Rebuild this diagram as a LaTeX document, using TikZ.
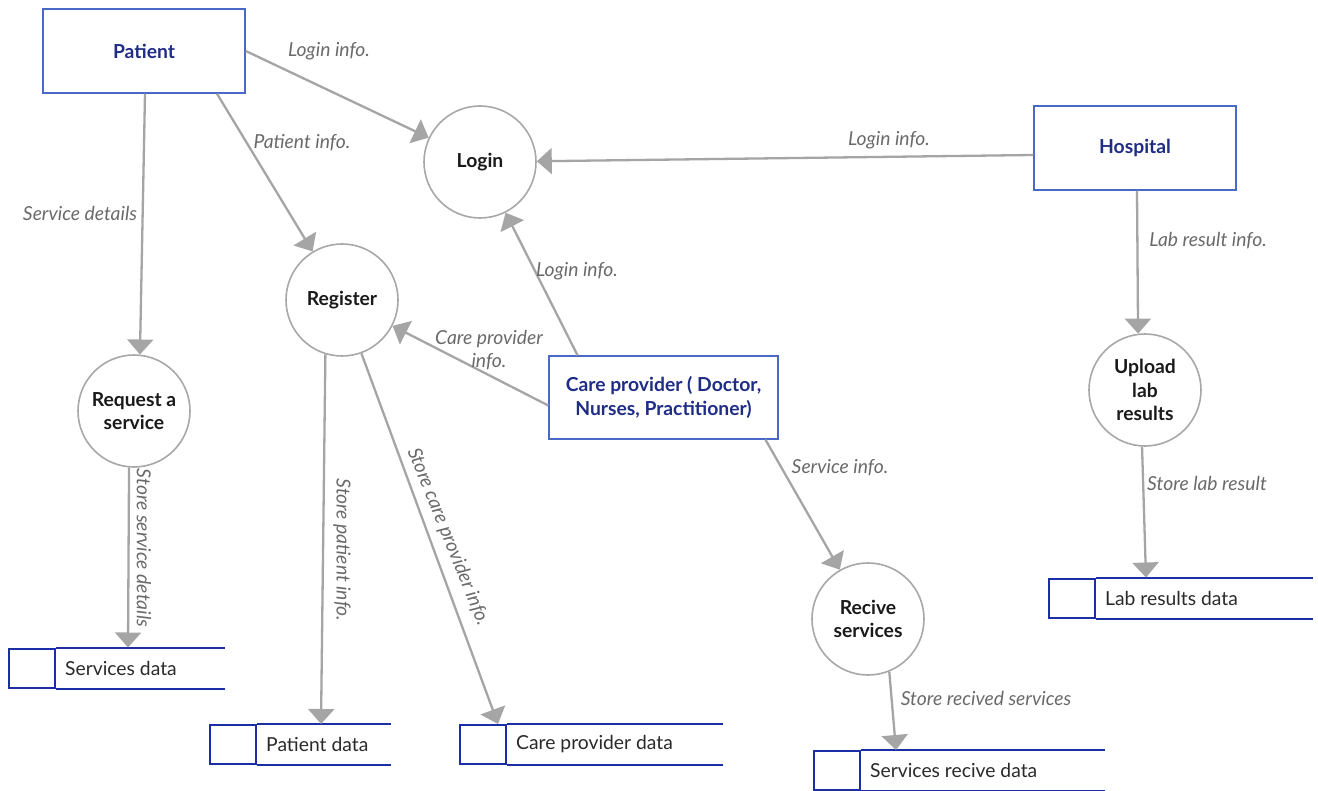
\documentclass[tikz,border=0pt]{standalone}
\usepackage{fontspec}
\setmainfont{Lato}
\usetikzlibrary{arrows.meta}

\definecolor{entitytext}{HTML}{1F2D86}
\definecolor{entityborder}{HTML}{4A68C8}
\definecolor{storeblue}{HTML}{1B2EA6}
\definecolor{flowgrey}{HTML}{A5A5A5}
\definecolor{circlegrey}{HTML}{A8A8A8}
\definecolor{labelgrey}{HTML}{6A6A6A}
\definecolor{processtext}{HTML}{1A1A1A}
\definecolor{storetextcol}{HTML}{2A2A2A}

\tikzset{
  entity/.style={draw=entityborder, line width=1.5pt, fill=white,
    minimum width=202pt, minimum height=84pt, inner sep=0pt,
    text=entitytext, align=center,
    font=\fontsize{19.3}{23.5}\selectfont\bfseries},
  process/.style={circle, draw=circlegrey, line width=1.6pt, fill=white,
    minimum size=112pt, inner sep=0pt, text=processtext, align=center,
    font=\fontsize{19.3}{23.5}\selectfont\bfseries},
  cell/.style={draw=storeblue, line width=2pt, minimum width=46pt,
    minimum height=39pt, inner sep=0pt},
  storeline/.style={draw=storeblue, line width=2pt},
  storetext/.style={anchor=west, inner sep=0pt, text=storetextcol,
    font=\fontsize{19.3}{23}\selectfont},
  flow/.style={draw=flowgrey, line width=2.3pt,
    -{Triangle[length=15pt,width=26pt]}},
  lbl/.style={inner sep=0pt, text=labelgrey, align=center,
    font=\fontsize{19.3}{23.5}\selectfont\itshape},
}

\begin{document}
\begin{tikzpicture}[x=1pt,y=-1pt]
  \useasboundingbox[fill=white] (0,0) rectangle (1318,791);

  % external entities
  \node[entity] (patient)  at (144,51)  {Patient};
  \node[entity] (hospital) at (1135,148) {Hospital};
  \node[entity, minimum width=229pt, minimum height=83pt] (care) at (663.5,397.5)
    {Care provider ( Doctor,\\Nurses, Practitioner)};

  % processes
  \node[process] (login)    at (480,162)  {Login};
  \node[process] (register) at (342,300)  {Register};
  \node[process] (request)  at (134,411)  {Request a\\service};
  \node[process] (upload)   at (1145,390) {Upload\\lab\\results};
  \node[process] (recive)   at (868,619)  {Recive\\services};

  % data stores: closed left cell, open right end
  \node[cell] (sdata) at (32,668) {};
  \draw[storeline] (sdata.north east) -- ++(169,0);
  \draw[storeline] (sdata.south east) -- ++(169,0);
  \node[storetext] (sdatatxt) at ([xshift=9pt]sdata.east) {Services data};

  \node[cell] (pdata) at (233,744.5) {};
  \draw[storeline] (pdata.north east) -- ++(134,0);
  \draw[storeline] (pdata.south east) -- ++(134,0);
  \node[storetext] (pdatatxt) at ([xshift=9pt]pdata.east) {Patient data};

  \node[cell] (cdata) at (483,744.5) {};
  \draw[storeline] (cdata.north east) -- ++(216,0);
  \draw[storeline] (cdata.south east) -- ++(216,0);
  \node[storetext] (cdatatxt) at ([xshift=9pt]cdata.east) {Care provider data};

  \node[cell] (rdata) at (837,770.5) {};
  \draw[storeline] (rdata.north east) -- ++(244,0);
  \draw[storeline] (rdata.south east) -- ++(244,0);
  \node[storetext] (rdatatxt) at ([xshift=9pt]rdata.east) {Services recive data};

  \node[cell] (ldata) at (1072,598) {};
  \draw[storeline] (ldata.north east) -- ++(217,0);
  \draw[storeline] (ldata.south east) -- ++(217,0);
  \node[storetext] (ldatatxt) at ([xshift=9pt]ldata.east) {Lab results data};

  % data flows
  \draw[flow] (patient.east) -- (login);
  \draw[flow] ([xshift=73pt]patient.south) -- (register);
  \draw[flow] ([xshift=1pt]patient.south) -- (request.84);
  \draw[flow] ([yshift=-7pt]hospital.west) -- (login);
  \draw[flow] ([xshift=2pt]hospital.south) -- (upload.97);
  \draw[flow] ([xshift=-86pt]care.north) -- (login);
  \draw[flow] ([yshift=-8pt]care.west) -- (register);
  \draw[flow] ([xshift=102pt]care.south) -- (recive);
  \draw[flow] (register.253) -- ([xshift=64pt]pdata.north east);
  \draw[flow] (register.290) -- ([xshift=-9pt]cdata.north east);
  \draw[flow] (request.265) -- ([xshift=72pt]sdata.north east);
  \draw[flow] (upload.267) -- ([xshift=50pt]ldata.north east);
  \draw[flow] (recive.292) -- ([xshift=35pt]rdata.north east);

  % flow labels
  \node[lbl] (lpatlogin)  at (329,51)   {Login info.};
  \node[lbl] (lpatinfo)   at (302,143)  {Patient info.};
  \node[lbl] (lservdet)   at (80,213)   {Service details};
  \node[lbl] (lhosplogin) at (889,140)  {Login info.};
  \node[lbl] (llabinfo)   at (1208,241) {Lab result info.};
  \node[lbl] (lcarelogin) at (577,271)  {Login info.};
  \node[lbl] (lcareinfo)  at (489,350)  {Care provider\\info.};
  \node[lbl] (lservinfo)  at (840,468)  {Service info.};
  \node[lbl, rotate=-90] (lstorepat)  at (342,550) {Store patient info.};
  \node[lbl, rotate=-90] (lstoreserv) at (144,548) {Store service details};
  \node[lbl, rotate=-68] (lstorecare) at (448,537) {Store care provider info.};
  \node[lbl] (lstorelab)  at (1207,483) {Store lab result};
  \node[lbl] (lstorerec)  at (986,698)  {Store recived services};
\end{tikzpicture}
\end{document}
